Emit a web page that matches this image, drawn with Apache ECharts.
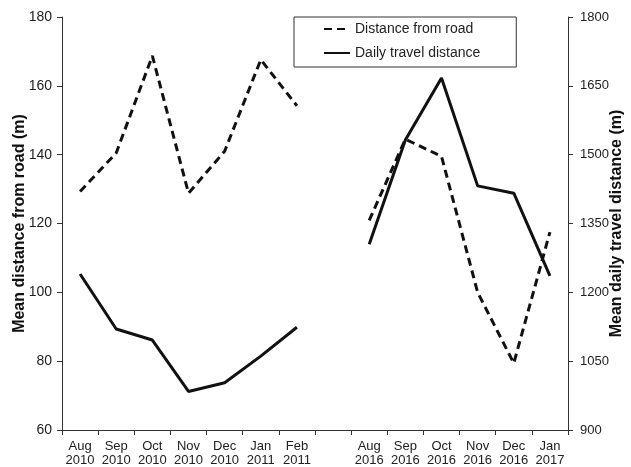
<!DOCTYPE html>
<html>
<head>
<meta charset="utf-8">
<script src="https://cdn.jsdelivr.net/npm/echarts@6/dist/echarts.min.js"></script>
<style>
html,body{margin:0;padding:0;background:#fff;}
#chart{width:631px;height:467px;}
</style>
</head>
<body>
<div id="chart"></div>
<script>
var categories = ['Aug\n2010','Sep\n2010','Oct\n2010','Nov\n2010','Dec\n2010','Jan\n2011','Feb\n2011','',
                  'Aug\n2016','Sep\n2016','Oct\n2016','Nov\n2016','Dec\n2016','Jan\n2017'];
var distanceFromRoad = [129.3, 140.5, 168.7, 128.8, 141, 167.6, 154.2, null, 120.9, 144.5, 139.5, 100, 79.4, 117.5];
var dailyTravel = [1240, 1120, 1096, 984, 1003, 1061, 1124, null, 1305, 1532, 1667, 1432, 1416, 1236];
var leftTicks = {min: 60, max: 180, interval: 20};
var rightTicks = {min: 900, max: 1800, interval: 150};

var FONT = '"Liberation Sans", Arial, sans-serif';
var chart = echarts.init(document.getElementById('chart'), null, {renderer: 'canvas'});
var axisCommon = {
  axisLine: {show: true, lineStyle: {color: '#333', width: 1}},
  axisTick: {show: true, length: 5, lineStyle: {color: '#333'}},
  splitLine: {show: false}
};
function yLabel(margin, size) {
  return {color: '#222', fontSize: size, fontFamily: FONT, margin: margin, formatter: function (v) { return String(v); }};
}
chart.setOption({
  backgroundColor: '#fff',
  animation: false,
  grid: {left: 62, right: 63, top: 17, bottom: 37, containLabel: false, outerBoundsMode: 'none'},
  legend: {
    left: 294, top: 17, orient: 'vertical',
    borderColor: '#333', borderWidth: 1,
    padding: [4, 36, 6, 29],
    itemGap: 8, itemWidth: 26, itemHeight: 14,
    itemStyle: {opacity: 0, borderWidth: 0},
    textStyle: {color: '#222', fontSize: 14, fontFamily: FONT, lineHeight: 16},
    data: ['Distance from road', 'Daily travel distance']
  },
  xAxis: Object.assign({}, axisCommon, {
    type: 'category', data: categories, boundaryGap: true,
    axisTick: {show: true, length: 5, alignWithLabel: false, interval: 0, lineStyle: {color: '#333'}},
    axisLabel: {color: '#222', fontSize: 13, fontFamily: FONT, interval: 0, lineHeight: 14, margin: 9}
  }),
  yAxis: [
    Object.assign({}, axisCommon, {
      type: 'value', position: 'left', min: leftTicks.min, max: leftTicks.max, interval: leftTicks.interval,
      axisLabel: yLabel(10, 14),
      name: 'Mean distance from road (m)', nameLocation: 'middle', nameGap: 34, nameMoveOverlap: false,
      nameTextStyle: {color: '#111', fontSize: 16, fontWeight: 'bold', fontFamily: FONT}
    }),
    Object.assign({}, axisCommon, {
      type: 'value', position: 'right', min: rightTicks.min, max: rightTicks.max, interval: rightTicks.interval,
      axisLabel: yLabel(12, 13),
      name: 'Mean daily travel distance (m)', nameLocation: 'middle', nameGap: 41, nameMoveOverlap: false,
      nameTextStyle: {color: '#111', fontSize: 16, fontWeight: 'bold', fontFamily: FONT}
    })
  ],
  series: [
    {
      name: 'Distance from road', type: 'line', yAxisIndex: 0, data: distanceFromRoad,
      symbol: 'none', connectNulls: false, color: '#111',
      lineStyle: {color: '#111', width: 3, type: [8, 5], cap: 'butt'}
    },
    {
      name: 'Daily travel distance', type: 'line', yAxisIndex: 1, data: dailyTravel,
      symbol: 'none', connectNulls: false, color: '#111',
      lineStyle: {color: '#111', width: 3, type: 'solid'}
    }
  ]
});
</script>
</body>
</html>
